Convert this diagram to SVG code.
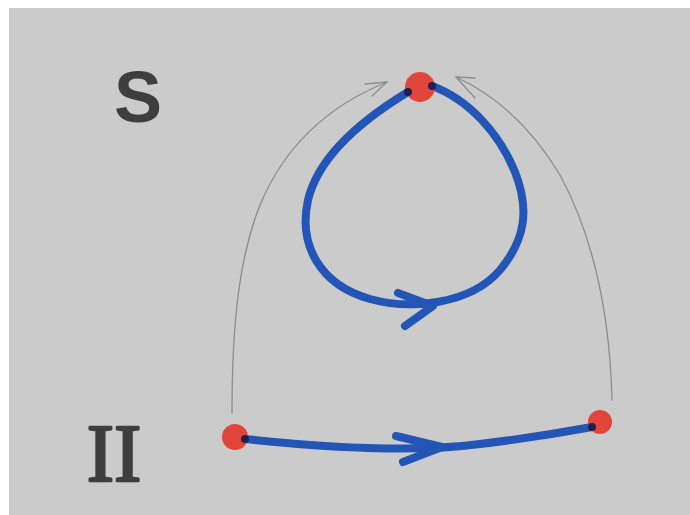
<svg xmlns="http://www.w3.org/2000/svg" width="690" height="515" viewBox="0 0 690 515">
  <style>
    .ink { fill: none; stroke: #2355b6; stroke-width: 8; stroke-linecap: round; stroke-linejoin: round; }
    .pencil { fill: none; stroke: #8c8c8c; stroke-width: 1.3; stroke-linecap: round; stroke-linejoin: round; }
    .dot { fill: #e2463b; }
    .end { fill: #1d1f55; }
    .label { fill: #3e3e3e; font-family: "Liberation Sans", Arial, sans-serif; }
    .roman { fill: #3e3e3e; stroke: #3e3e3e; stroke-width: 2.5; stroke-linejoin: round; font-family: "Liberation Serif", "Times New Roman", serif; }
  </style>
  <rect x="0" y="0" width="690" height="515" fill="#ffffff"/>
  <rect x="9" y="8" width="681" height="507" fill="#cbcbcb"/>

  <g id="connectors">
    <g id="arc-left">
      <path class="pencil" d="M232,413 C232,330 238,260 260,205 C285,145 330,105 387,82"/>
      <path class="pencil" d="M365,84 L387,82 L372,96"/>
    </g>
    <g id="arc-right">
      <path class="pencil" d="M612,400 C610,320 595,240 560,175 C530,125 495,95 456,77"/>
      <path class="pencil" d="M475,78 L456,77 L475,98"/>
    </g>
    <g id="loop">
      <path class="ink" d="M408,92 C375,112 320,150 308,200 C298,245 320,285 370,299 C410,310 470,305 500,270 C525,240 530,210 515,172 C500,135 470,100 432,86"/>
      <path class="ink" d="M398,293 L433,306 L405,326"/>
    </g>
    <g id="path-bottom">
      <path class="ink" d="M245,439 C330,448 420,452 480,444 C530,438 565,432 592,427"/>
      <path class="ink" d="M396,436 L442,447 L403,462"/>
    </g>
  </g>

  <g id="node-top">
    <circle class="dot" cx="420" cy="87" r="15"/>
    <circle class="end" cx="408" cy="92" r="4"/>
    <circle class="end" cx="432" cy="86" r="4"/>
  </g>
  <g id="node-left">
    <circle class="dot" cx="235" cy="437" r="13"/>
    <circle class="end" cx="245" cy="439" r="4"/>
  </g>
  <g id="node-right">
    <circle class="dot" cx="600" cy="422" r="12"/>
    <circle class="end" cx="592" cy="427" r="4"/>
  </g>

  <g id="label-S">
    <text class="label" x="138" y="122" font-size="72" font-weight="bold" text-anchor="middle">S</text>
  </g>
  <g id="label-II">
    <text class="roman" x="114" y="481" font-size="82" text-anchor="middle">II</text>
  </g>
</svg>
